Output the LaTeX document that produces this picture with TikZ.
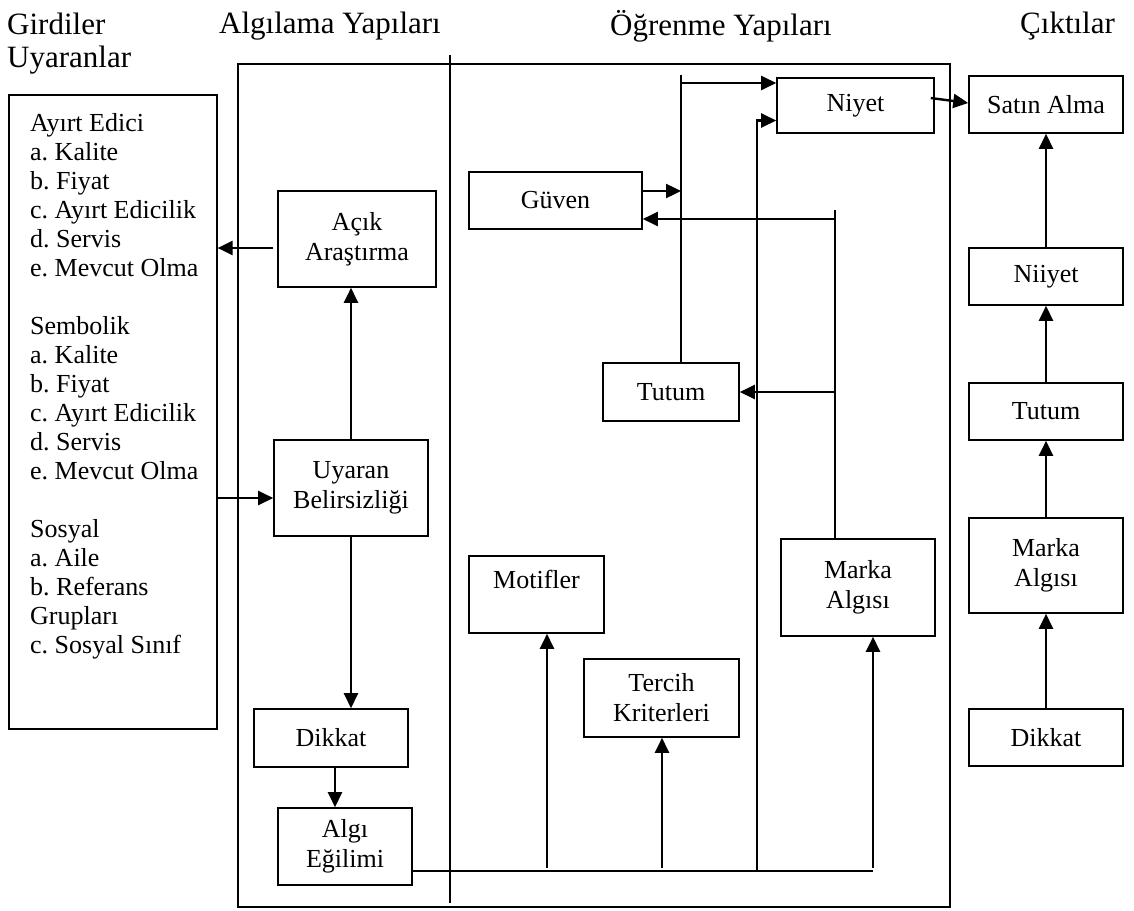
\documentclass[tikz,border=0pt]{standalone}
\usepackage{fontspec}
\setmainfont{Liberation Serif}
\usetikzlibrary{arrows.meta}
\frenchspacing

\begin{document}
\begin{tikzpicture}[x=1pt,y=-1pt]
    \tikzstyle{box}=[draw,line width=1.6pt,inner sep=0pt,align=center,font=\fontsize{26}{30}\selectfont]
    \tikzstyle{arr}=[line width=2.4pt,-{Triangle[length=15pt,width=14pt]}]
    \tikzstyle{wire}=[line width=2.4pt]
    \tikzstyle{head}=[inner sep=0pt,anchor=west,font=\fontsize{31}{33}\selectfont]
    \useasboundingbox (0,0) rectangle (1134,910);

    % basliklar
    \node[head] (girdiler) at (7,24) {Girdiler};
    \node[head] (uyaranlar) at (7,60) {Uyaranlar};
    \node[head] (algilama) at (219,26) {Algılama Yapıları};
    \node[head] (ogrenme) at (610,26) {Öğrenme Yapıları};
    \node[head] (ciktilar) at (1020,26) {Çıktılar};

    % cerceve
    \draw[line width=1.4pt] (238,64) rectangle (950,907);
    \draw[line width=1.4pt] (450,55) -- (450,903);

    % girdiler kutusu
    \node[box,minimum width=208,minimum height=634,anchor=north west] (inputs) at (8,94) {};
    \node[inner sep=0pt,anchor=north west,align=left,font=\fontsize{26}{29}\selectfont] (inputlist) at (30,113) {%
        Ayırt Edici\\ a. Kalite\\ b. Fiyat\\ c. Ayırt Edicilik\\ d. Servis\\ e. Mevcut Olma\\[29pt]
        Sembolik\\ a. Kalite\\ b. Fiyat\\ c. Ayırt Edicilik\\ d. Servis\\ e. Mevcut Olma\\[29pt]
        Sosyal\\ a. Aile\\ b. Referans\\ Grupları\\ c. Sosyal Sınıf};

    % algilama yapilari
    \node[box,minimum width=158,minimum height=96] (acik) at (357,239) {Açık\\ Araştırma};
    \node[box,minimum width=154,minimum height=96] (uyaran) at (351,488) {Uyaran\\ Belirsizliği};
    \node[box,minimum width=154,minimum height=58] (dikkat1) at (331,738) {Dikkat};
    \node[box,minimum width=134,minimum height=77] (algi) at (345,846.5) {Algı\\ Eğilimi};

    % ogrenme yapilari
    \node[box,minimum width=173,minimum height=57] (guven) at (555.5,200.5) {Güven};
    \node[box,minimum width=136,minimum height=58] (tutum1) at (671,392) {Tutum};
    \node[box,minimum width=157,minimum height=55] (niyet1) at (855.5,105.5) {Niyet};
    \node[box,minimum width=135,minimum height=77] (motifler) at (536.5,594.5) {Motifler\\[0pt]\phantom{M}};
    \node[box,minimum width=155,minimum height=78] (tercih) at (661.5,698) {Tercih\\ Kriterleri};
    \node[box,minimum width=154,minimum height=97] (marka1) at (858,587.5) {Marka\\ Algısı};

    % ciktilar
    \node[box,minimum width=154,minimum height=57] (satin) at (1046,104.5) {Satın Alma};
    \node[box,minimum width=154,minimum height=57] (niiyet) at (1046,276.5) {Niiyet};
    \node[box,minimum width=154,minimum height=57] (tutum2) at (1046,411.5) {Tutum};
    \node[box,minimum width=154,minimum height=95] (marka2) at (1046,565.5) {Marka\\ Algısı};
    \node[box,minimum width=154,minimum height=57] (dikkat2) at (1046,737.5) {Dikkat};

    \coordinate (bus) at (873,871);
    \coordinate (riseA) at (547,868);
    \coordinate (riseT) at (662,868);
    \coordinate (riseB) at (757,871);
    \coordinate (riseC) at (681,75);
    \coordinate (riseD) at (835,210);

    % baglantilar
    \draw[arr] ([xshift=-4pt,yshift=-9pt]acik.west) -- ([yshift=-9pt]acik.west -| inputs.east);
    \draw[arr] ([yshift=-10pt]uyaran.west -| inputs.east) -- ([yshift=-10pt]uyaran.west);
    \draw[arr] (uyaran.north) -- (uyaran.north |- acik.south);
    \draw[arr] (uyaran.south) -- (uyaran.south |- dikkat1.north);
    \draw[arr] ([xshift=4pt]dikkat1.south) -- ([xshift=4pt]dikkat1.south |- algi.north);
    \draw[wire] (algi.east |- bus) -- (bus);
    \draw[arr] (riseA) -- (riseA |- motifler.south);
    \draw[arr] (riseT) -- (riseT |- tercih.south);
    \draw[arr] (bus |- riseA) -- (bus |- marka1.south);
    \draw[arr] (riseB) |- ([yshift=-15pt]niyet1.west);
    \draw[wire] (riseC |- tutum1.north) -- (riseC);
    \draw[arr] ([yshift=-8pt]riseC) -- ([yshift=-8pt]riseC -| niyet1.west);
    \draw[arr] ([yshift=9.5pt]guven.east) -- ([yshift=9.5pt]guven.east -| riseC);
    \draw[wire] (riseD |- marka1.north) -- (riseD);
    \draw[arr] ([yshift=-18.5pt]guven.east -| riseD) -- ([yshift=-18.5pt]guven.east);
    \draw[arr] (riseD |- tutum1.east) -- (tutum1.east);
    \draw[arr] ([xshift=-4pt,yshift=7.5pt]niyet1.east) -- ([yshift=1.5pt]satin.west);
    \draw[arr] (niiyet.north) -- (satin.south);
    \draw[arr] (tutum2.north) -- (niiyet.south);
    \draw[arr] (marka2.north) -- (tutum2.south);
    \draw[arr] (dikkat2.north) -- (marka2.south);
\end{tikzpicture}
\end{document}
